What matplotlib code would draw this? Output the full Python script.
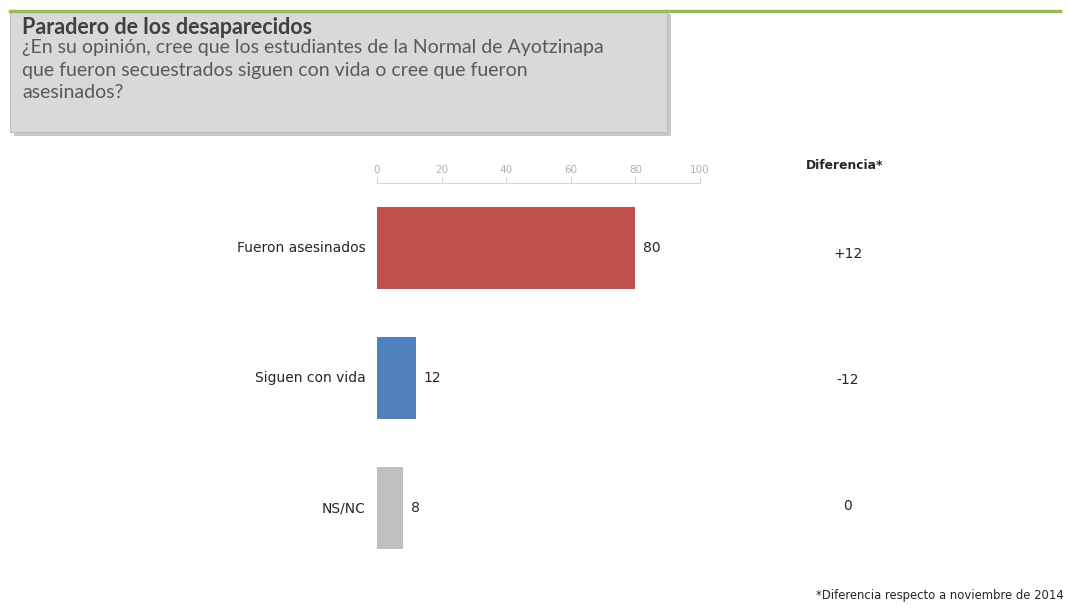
import matplotlib.pyplot as plt
from matplotlib.patches import Rectangle

categories = ["Fueron asesinados", "Siguen con vida", "NS/NC"]
values = [80, 12, 8]
colors = ["#c0504d", "#4f81bd", "#bfbfbf"]
diferencias = ["+12", "-12", "0"]
ticks = [0, 20, 40, 60, 80, 100]

title = "Paradero de los desaparecidos"
question = ("¿En su opinión, cree que los estudiantes de la Normal de Ayotzinapa\n"
            "que fueron secuestrados siguen con vida o cree que fueron\n"
            "asesinados?")
note = "*Diferencia respecto a noviembre de 2014"

W, H = 1068, 605
fig = plt.figure(figsize=(W / 100, H / 100), dpi=100)

# header: green rule, grey box with shadow
fig.add_artist(plt.Line2D([10 / W, 1060 / W], [1 - 11 / H, 1 - 11 / H],
                          color="#9bbb59", lw=2.5))
fig.add_artist(Rectangle((14 / W, 1 - 136 / H), 657 / W, 122 / H,
                         facecolor="#a6a6a6", edgecolor="none", alpha=0.6))
fig.add_artist(Rectangle((10 / W, 1 - 132 / H), 657 / W, 120 / H,
                         facecolor="#d9d9d9", edgecolor="#bfbfbf", lw=0.8))
fig.text(22 / W, 1 - 27 / H, title, fontsize=15.5, fontweight="bold",
         color="#404040", family="Lato", va="center")
fig.text(22 / W, 1 - 39 / H, question, fontsize=14, color="#595959",
         family="Lato", va="top", linespacing=1.4)

ax = fig.add_axes([377 / W, 1 - 573 / H, 323 / W, 390 / H])
y = range(len(categories))
ax.barh(y, values, height=0.63, color=colors)
ax.set_xlim(0, 100)
ax.set_ylim(2.5, -0.5)
ax.xaxis.tick_top()
ax.set_xticks(ticks)
ax.tick_params(axis="x", colors="#d0d0d0", labelcolor="#b0b0b0", labelsize=7.5,
               length=4, direction="out", pad=2)
ax.set_yticks([])
for s in ["left", "right", "bottom"]:
    ax.spines[s].set_visible(False)
ax.spines["top"].set_color("#d9d9d9")

for i, (cat, v, d) in enumerate(zip(categories, values, diferencias)):
    ax.text(-3.5, i, cat, ha="right", va="center", fontsize=10, color="#262626")
    ax.text(v + 2.5, i, str(v), ha="left", va="center", fontsize=10, color="#262626")
    fig.text(848 / W, 1 - (254 + 126 * i) / H, d, ha="center", va="center",
             fontsize=10, color="#262626")

fig.text(845 / W, 1 - 166 / H, "Diferencia*", ha="center", va="center",
         fontsize=8.8, fontweight="bold", color="#262626")
fig.text(1064 / W, 1 - 596 / H, note, ha="right", va="center",
         fontsize=8.4, color="#262626")

fig.savefig("out.png", dpi=100)
